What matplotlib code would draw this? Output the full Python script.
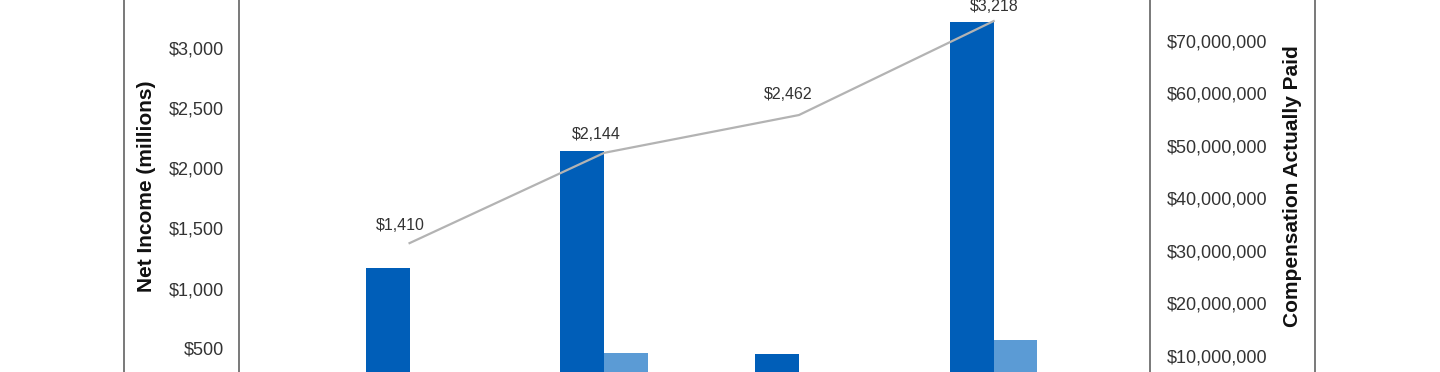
import matplotlib.pyplot as plt
from matplotlib.lines import Line2D

plt.rcParams["font.family"] = ["Liberation Sans", "DejaVu Sans"]

# data
groups = [0, 1, 2, 3]
net_income = [1175, 2144, 452, 3218]          # dark bars, millions
net_income_2 = [0, 465, 0, 569]               # light bars, millions
cap = [31.5e6, 48.7e6, 55.9e6, 73.8e6]        # line, right axis
cap_labels = ["$1,410", "$2,144", "$2,462", "$3,218"]
left_ticks = [500, 1000, 1500, 2000, 2500, 3000]
right_ticks = [10e6, 20e6, 30e6, 40e6, 50e6, 60e6, 70e6]

# label nudges in pixels (style, not data)
label_nudge = [(-9, 18), (-8, 18), (-11, 21), (1, 15)]

W, H = 1440, 372
fig = plt.figure(figsize=(W / 100, H / 100), dpi=100)

# axes extend past the visible crop (top and bottom cut off)
ax = fig.add_axes([239 / W, (H - 408.5) / H, 911 / W, 420 / H])
ax2 = ax.twinx()

dark = "#005EB8"
light = "#5B9BD5"
grey_line = "#B3B3B3"
spine_col = "#6E6E6E"
text_col = "#333333"

bw = 0.225
ax.bar(groups, net_income, width=-bw, align="edge", color=dark, zorder=2)
ax.bar(groups, net_income_2, width=bw, align="edge", color=light, zorder=2)
ax.set_xlim(-0.876, 3.803)
ax.set_ylim(0, 3500)
ax.set_yticks(left_ticks)
ax.set_yticklabels([f"${v:,.0f}" for v in left_ticks])
ax.set_xticks([])

ax2.plot(groups, cap, color=grey_line, lw=1.6, zorder=3)
ax2.set_ylim(0, 80e6)
ax2.set_yticks(right_ticks)
ax2.set_yticklabels([f"${v:,.0f}" for v in right_ticks])

for x, y, lab, (dx, dy) in zip(groups, cap, cap_labels, label_nudge):
    ax2.annotate(lab, (x, y), xytext=(dx, dy), textcoords="offset pixels",
                 ha="center", va="center", fontsize=11.5, color=text_col)

for a in (ax, ax2):
    for s in ("top", "bottom"):
        a.spines[s].set_visible(False)
    a.spines["left"].set_visible(a is ax)
    a.spines["right"].set_visible(a is ax2)
    a.tick_params(axis="y", length=0, labelsize=13, labelcolor=text_col)
ax.spines["left"].set_color(spine_col)
ax.spines["left"].set_linewidth(1.3)
ax2.spines["right"].set_color(spine_col)
ax2.spines["right"].set_linewidth(1.3)
ax.tick_params(axis="y", pad=11)
ax2.tick_params(axis="y", pad=12)

fig.text(147 / W, 0.5, "Net Income (millions)", rotation=90, ha="center",
         va="center", fontsize=15, fontweight="bold", color="#111111")
fig.text(1293 / W, 0.5, "Compensation Actually Paid", rotation=90,
         ha="center", va="center", fontsize=15, fontweight="bold",
         color="#111111")

# outer frame lines
for xp in (123.5, 1315):
    fig.add_artist(Line2D([xp / W, xp / W], [0, 1], color=spine_col, lw=1.3))

fig.savefig("out.png", dpi=100)
